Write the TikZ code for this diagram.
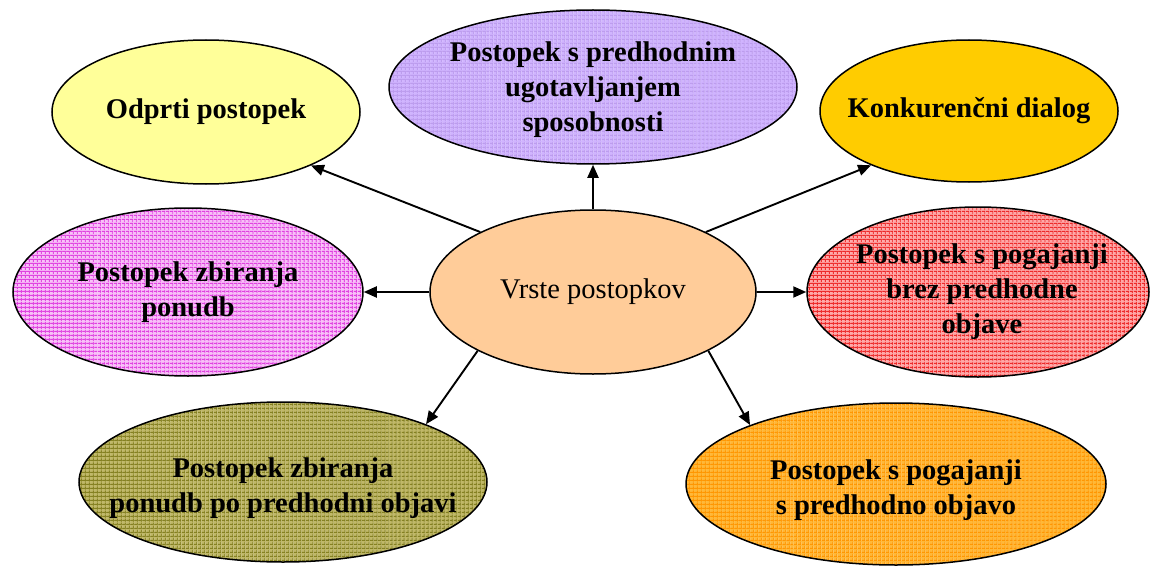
\documentclass[tikz,border=0pt]{standalone}
\usepackage{fontspec}
\setmainfont{Liberation Serif}
\usetikzlibrary{shapes.geometric,arrows.meta,patterns.meta}
\definecolor{cYellow}{HTML}{FFFF99}
\definecolor{cGold}{HTML}{FFCC00}
\definecolor{cPeach}{HTML}{FFCC99}
\definecolor{cLilacBase}{HTML}{D0B4FF}
\definecolor{cLilacLine}{HTML}{BC9CEE}
\definecolor{cPinkBase}{HTML}{F8C0F8}
\definecolor{cPinkLine}{HTML}{E040E0}
\definecolor{cRedBase}{HTML}{FFA8A8}
\definecolor{cRedLine}{HTML}{EE2828}
\definecolor{cOliveBase}{HTML}{C0B868}
\definecolor{cOliveLine}{HTML}{848020}
\definecolor{cOrangeBase}{HTML}{FFB838}
\definecolor{cOrangeLine}{HTML}{FF9600}
\begin{document}
\begin{tikzpicture}[x=1pt,y=-1pt,
  bubble/.style={ellipse, draw=black, line width=1.5pt, inner sep=0pt},
  gridfill/.style 2 args={
    preaction={fill=#1},
    preaction={pattern={Lines[angle=0,distance=4pt,line width=1.2pt]}, pattern color=#2},
    preaction={pattern={Lines[angle=90,distance=4pt,line width=1.2pt]}, pattern color=#2}},
  caption/.style={font=\fontsize{28.5}{35}\selectfont\bfseries, align=center},
  plain/.style={font=\fontsize{28.5}{35}\selectfont, align=center},
  link/.style={line width=1.9pt, -{Triangle[length=13pt,width=11pt]}}]
\useasboundingbox (0,0) rectangle (1150,567);

% central node
\node[bubble, fill=cPeach, minimum width=326pt, minimum height=164pt,
      label={[plain]center:Vrste postopkov}] (c) at (593,292) {};

% surrounding procedure types
\node[bubble, fill=cYellow, minimum width=308pt, minimum height=144pt,
      label={[caption]center:Odprti postopek}] (odp) at (206,112) {};
\node[bubble, gridfill={cLilacBase}{cLilacLine}, minimum width=408pt, minimum height=154pt,
      label={[caption, yshift=-3pt]center:{Postopek s predhodnim\\ugotavljanjem\\sposobnosti}}] (pred) at (593,87) {};
\node[bubble, fill=cGold, minimum width=298pt, minimum height=142pt,
      label={[caption]center:Konkuren\v{c}ni dialog}] (konk) at (969,111) {};
\node[bubble, gridfill={cPinkBase}{cPinkLine}, minimum width=350pt, minimum height=168pt,
      label={[caption]center:{Postopek zbiranja\\ponudb}}] (zbir) at (188,292) {};
\node[bubble, gridfill={cRedBase}{cRedLine}, minimum width=342pt, minimum height=170pt,
      label={[caption, xshift=4pt]center:{Postopek s pogajanji\\brez predhodne\\objave}}] (brez) at (978,292) {};
\node[bubble, gridfill={cOliveBase}{cOliveLine}, minimum width=408pt, minimum height=160pt,
      label={[caption, yshift=-6pt]center:{Postopek zbiranja\\ponudb po predhodni objavi}}] (zpo) at (283,482) {};
\node[bubble, gridfill={cOrangeBase}{cOrangeLine}, minimum width=420pt, minimum height=162pt,
      label={[caption, yshift=-6pt]center:{Postopek s pogajanji\\s predhodno objavo}}] (spo) at (896,484) {};

% connectors
\draw[link] (c.152) -- (odp.-27);
\draw[link] (c.90) -- (pred.270);
\draw[link] (c.28) -- (konk.209);
\draw[link] (c.180) -- (zbir.0);
\draw[link] (c.0) -- (brez.180);
\draw[link] (c.207) -- (zpo.22);
\draw[link] (c.-27) -- (spo.158);
\end{tikzpicture}
\end{document}
